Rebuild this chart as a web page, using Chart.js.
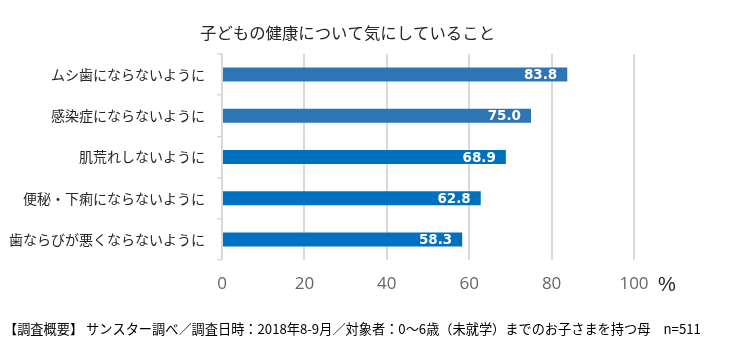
<!DOCTYPE html>
<html lang="ja">
<head>
    <meta charset="UTF-8">
    <title>子どもの健康について気にしていること</title>
    <style>
        body { margin: 0; background: #ffffff; }
        #wrap { width: 750px; height: 352px; }
    </style>
</head>
<body>
    <div id="wrap"><canvas id="barChart" width="750" height="352"></canvas></div>

    <script src="https://cdn.jsdelivr.net/npm/chart.js@4.4.1/dist/chart.umd.min.js"></script>
    <script>
        // Data
        const categories = ['ムシ歯にならないように', '感染症にならないように', '肌荒れしないように', '便秘・下痢にならないように', '歯ならびが悪くならないように'];
        const values = [83.8, 75.0, 68.9, 62.8, 58.3];
        const barColors = ['#2E75B6', '#2E75B6', '#0070C0', '#0070C0', '#0070C0'];
        const xTicks = [0, 20, 40, 60, 80, 100];

        const titleText = '子どもの健康について気にしていること';
        const noteText = '【調査概要】 サンスター調べ／調査日時：2018年8-9月／対象者：0～6歳（未就学）までのお子さまを持つ母　n=511';
        const jpFont = '"Noto Sans CJK JP", "Noto Sans", sans-serif';

        // Value labels inside the bar ends, plus title, unit and note text
        const extras = {
            id: 'extras',
            afterDatasetsDraw(chart) {
                const ctx = chart.ctx;
                const meta = chart.getDatasetMeta(0);
                ctx.save();
                ctx.fillStyle = '#ffffff';
                ctx.font = 'bold 13.5px "DejaVu Sans", sans-serif';
                ctx.textAlign = 'right';
                ctx.textBaseline = 'middle';
                meta.data.forEach(function (bar, i) {
                    ctx.fillText(values[i].toFixed(1), bar.x - 10, bar.y + 1);
                });
                ctx.restore();
            },
            afterDraw(chart) {
                const ctx = chart.ctx;
                const xs = chart.scales.x;
                ctx.save();
                ctx.textBaseline = 'middle';
                ctx.fillStyle = '#262626';
                ctx.font = '16.4px ' + jpFont;
                ctx.textAlign = 'left';
                ctx.fillText(titleText, 200, 33);

                ctx.fillStyle = '#262626';
                ctx.font = '20px "Liberation Sans", sans-serif';
                ctx.fillText('%', xs.getPixelForValue(100) + 24, 285);

                ctx.fillStyle = '#000000';
                ctx.font = '13.2px ' + jpFont;
                ctx.fillText(noteText, 4, 329);
                ctx.restore();
            }
        };

        const ctx1 = document.getElementById('barChart').getContext('2d');
        const barChart = new Chart(ctx1, {
            type: 'bar',
            data: {
                labels: categories,
                datasets: [{
                    data: values,
                    backgroundColor: barColors,
                    borderWidth: 0,
                    barPercentage: 0.34,
                    categoryPercentage: 1.0
                }]
            },
            options: {
                indexAxis: 'y',
                responsive: false,
                animation: false,
                layout: { padding: { top: 54, right: 116, bottom: 0, left: 0 } },
                plugins: {
                    legend: { display: false },
                    title: { display: false },
                    tooltip: { enabled: false }
                },
                scales: {
                    x: {
                        min: 0,
                        max: 100,
                        afterBuildTicks(scale) {
                            scale.ticks = xTicks.map(v => ({ value: v }));
                        },
                        afterFit(scale) { scale.height = 92; },
                        grid: {
                            color: '#D9D9D9',
                            lineWidth: 2,
                            drawTicks: false
                        },
                        border: { display: false },
                        ticks: {
                            color: '#666666',
                            font: { family: '"Open Sans", sans-serif', size: 17 },
                            padding: 14
                        }
                    },
                    y: {
                        afterFit(scale) { scale.width = 222; },
                        grid: {
                            offset: true,
                            drawOnChartArea: false,
                            drawTicks: true,
                            tickLength: 5,
                            color: '#D9D9D9',
                            lineWidth: 1.5
                        },
                        border: { display: true, color: '#D9D9D9', width: 1.5 },
                        ticks: {
                            color: '#262626',
                            font: { family: jpFont, size: 14 },
                            padding: 12
                        }
                    }
                }
            },
            plugins: [extras]
        });
    </script>
</body>
</html>
